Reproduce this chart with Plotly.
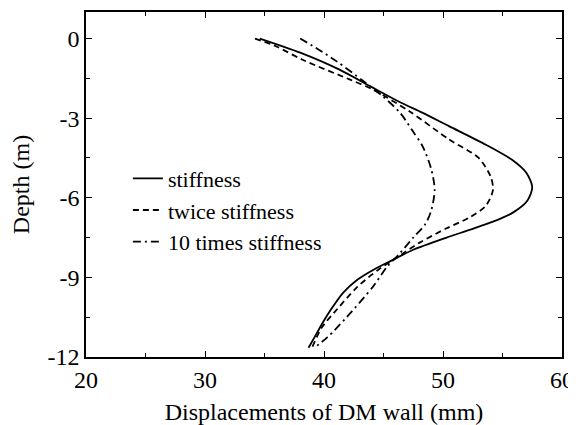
import plotly.graph_objects as go

# Wall displacement profiles (mm vs depth m)
stiff_x = [34.6, 38.0, 41.3, 44.1, 46.4, 48.3, 50.5, 53.6, 55.8, 57.0, 57.5, 57.1, 55.9, 54.2, 52.3,
           50.3, 47.5, 45.8, 44.2, 42.8, 41.6, 40.75, 39.9, 39.4, 38.7]
stiff_y = [0.0, -0.53, -1.17, -1.85, -2.4, -2.8, -3.3, -4.0, -4.57, -5.06, -5.6, -6.1, -6.55, -6.9, -7.2,
           -7.5, -7.96, -8.34, -8.7, -9.09, -9.58, -10.1, -10.7, -11.1, -11.65]

twice_x = [34.2, 36.0, 38.2, 42.2, 44.1, 47.2, 50.5, 53.0, 54.0, 54.2, 53.6, 52.2, 50.3, 48.0,
           46.1, 44.6, 42.8, 41.1, 39.8, 39.0]
twice_y = [0.0, -0.3, -0.8, -1.55, -1.92, -2.75, -3.8, -4.5, -5.2, -5.7, -6.3, -6.75, -7.15, -7.7,
           -8.26, -8.7, -9.36, -10.2, -10.9, -11.65]

ten_x = [38.0, 39.5, 41.1, 43.3, 45.0, 46.4, 47.4, 48.3, 49.0, 49.3, 49.0, 48.5, 47.5, 46.4, 45.3,
         44.1, 41.9, 40.3, 39.2]
ten_y = [0.0, -0.4, -0.87, -1.6, -2.2, -2.8, -3.45, -4.07, -4.9, -5.7, -6.5, -7.0, -7.5, -8.08, -8.6,
         -9.36, -10.5, -11.25, -11.65]

x_ticks = [20, 30, 40, 50, 60]
y_ticks = [0, -3, -6, -9, -12]
y_tick_labels = ["0", "-3", "-6", "-9", "-12"]

font = "Liberation Serif, Times New Roman, serif"

fig = go.Figure()
fig.add_trace(go.Scatter(x=stiff_x, y=stiff_y, mode="lines", name="stiffness",
                         line=dict(color="black", width=1.8, shape="spline", smoothing=0.8)))
fig.add_trace(go.Scatter(x=twice_x, y=twice_y, mode="lines", name="twice stiffness",
                         line=dict(color="black", width=1.8, shape="spline", smoothing=0.8, dash="6px,4px")))
fig.add_trace(go.Scatter(x=ten_x, y=ten_y, mode="lines", name="10 times stiffness",
                         line=dict(color="black", width=1.8, shape="spline", smoothing=0.8,
                                   dash="8px,4px,2px,4px")))

axis_common = dict(showgrid=False, zeroline=False, showline=True, linecolor="black", linewidth=1.5,
                   mirror="ticks", ticks="inside", ticklen=6, tickwidth=1.2, tickcolor="black",
                   automargin=False, tickfont=dict(family=font, size=24, color="black"))

fig.update_xaxes(range=[20, 60], tickvals=x_ticks,
                 minor=dict(tickvals=[25, 35, 45, 55], ticks="inside", ticklen=4, tickcolor="black"),
                 title=dict(text="Displacements of DM wall (mm)", font=dict(family=font, size=24, color="black"),
                            standoff=13),
                 **axis_common)
fig.update_yaxes(range=[-12, 1], tickvals=y_ticks, ticktext=y_tick_labels,
                 minor=dict(tickvals=[-1.5, -4.5, -7.5, -10.5], ticks="inside", ticklen=4, tickcolor="black"),
                 title=dict(text="Depth (m)", font=dict(family=font, size=24, color="black"), standoff=12),
                 **axis_common)

# page body adds an 8px offset, so the figure is sized to fit the window
fig.update_layout(
    width=568, height=417,
    margin=dict(l=78, r=14, t=4, b=68),
    plot_bgcolor="white", paper_bgcolor="white",
    font=dict(family=font, size=24, color="black"),
    legend=dict(x=0.088, y=0.578, xanchor="left", yanchor="top", bgcolor="rgba(0,0,0,0)",
                font=dict(family=font, size=22, color="black")),
)

fig.write_html("out.html")
